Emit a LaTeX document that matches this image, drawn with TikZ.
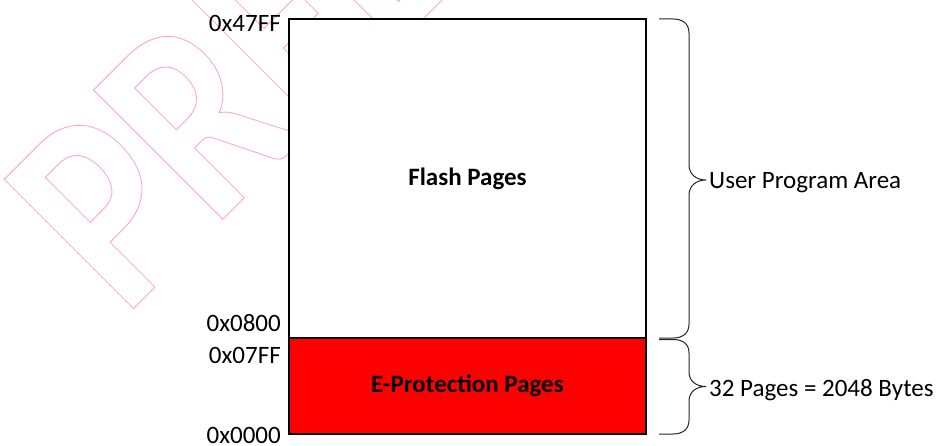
\documentclass[tikz,border=0pt]{standalone}
\usepackage{fontspec}
\setmainfont{Carlito}
\definecolor{wmpink}{RGB}{255,160,210}
\definecolor{protred}{RGB}{255,0,0}
% outlined (stroked, unfilled) text through xdvipdfmx literals
\newcommand\outlinetext[1]{\special{pdf:literal direct 1 Tr 0.9 w 1 0.627 0.824 RG}#1\special{pdf:literal direct 0 Tr}}
\tikzset{
  memblock/.style={draw=black, line width=1.1pt, minimum width=357pt, inner sep=0pt, outer sep=0pt,
    font=\fontsize{25}{28}\selectfont\bfseries},
  addr/.style={anchor=base east, inner sep=0pt, font=\fontsize{25}{28}\selectfont},
  sidelabel/.style={anchor=base west, inner sep=0pt, font=\fontsize{25}{28}\selectfont},
  membrace/.style={draw=black!85, line width=1pt},
}
\begin{document}
\begin{tikzpicture}[x=1pt, y=-1pt]
  \useasboundingbox (0,0) rectangle (941,446);
  \clip (0,0) rectangle (941,446);
  \fill[white] (0,0) rectangle (941,446);

  % watermark
  \begin{scope}
    \node[anchor=base west, rotate=45, xscale=0.84, inner sep=0pt, outer sep=0pt, text=wmpink,
      font=\fontsize{282}{282}\selectfont\bfseries] (wm) at (124,318) {\outlinetext{PRELIMINARY}};
  \end{scope}

  % memory map
  \node[memblock, fill=white, minimum height=319pt] (flash) at (467.5,178.5) {Flash Pages};
  \node[memblock, fill=protred, minimum height=96pt] (eprot) at (467.5,386) {E-Protection Pages};

  % addresses
  \node[addr] (a47ff) at (281,31.5) {0x47FF};
  \node[addr] (a0800) at (281,331.5) {0x0800};
  \node[addr] (a07ff) at (281,363) {0x07FF};
  \node[addr] (a0000) at (281,443) {0x0000};

  % braces
  \coordinate (ut) at (659,19);
  \coordinate (ub) at (659,338);
  \coordinate (lt) at (659,339.5);
  \coordinate (lb) at (659,434);
  \draw[membrace] (ut) -- (673,19) .. controls (683,19) and (689,24) .. (689,33)
    -- (689,165) .. controls (689,174) and (696,180) .. (706,180)
    .. controls (696,180) and (689,186) .. (689,195)
    -- (689,324) .. controls (689,333) and (683,338) .. (673,338) -- (ub);
  \draw[membrace] (lt) -- (673,339.5) .. controls (683,339.5) and (689,344) .. (689,353)
    -- (689,372) .. controls (689,381) and (696,386.5) .. (706,386.5)
    .. controls (696,386.5) and (689,392) .. (689,401)
    -- (689,420) .. controls (689,429) and (683,434) .. (673,434) -- (lb);

  \node[sidelabel] (upa) at (709,188.3) {User Program Area};
  \node[sidelabel] (pgs) at (709,396.5) {32 Pages = 2048 Bytes};
\end{tikzpicture}
\end{document}
